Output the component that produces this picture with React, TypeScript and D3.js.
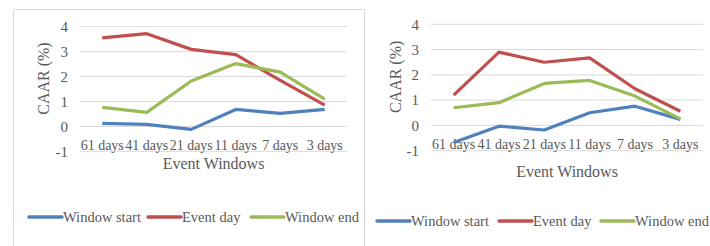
import * as d3 from 'd3';

const categories = ['61 days', '41 days', '21 days', '11 days', '7 days', '3 days'];
const yTicks = [-1, 0, 1, 2, 3, 4];
const seriesNames = ['Window start', 'Event day', 'Window end'];
const seriesColors = ['#4f81bd', '#c0504d', '#9bbb59'];

// left panel
const leftStart = [0.12, 0.08, -0.12, 0.68, 0.52, 0.68];
const leftEvent = [3.55, 3.72, 3.09, 2.88, 1.85, 0.85];
const leftEnd = [0.76, 0.56, 1.82, 2.52, 2.18, 1.09];

// right panel
const rightStart = [-0.68, -0.03, -0.18, 0.5, 0.76, 0.24];
const rightEvent = [1.2, 2.9, 2.5, 2.67, 1.45, 0.56];
const rightEnd = [0.7, 0.9, 1.66, 1.78, 1.16, 0.26];

const FONT = '"Liberation Serif", "Times New Roman", serif';
const TEXT = '#595959';
const GRID = '#d9d9d9';

interface PanelProps {
  series: number[][];
  x0: number;
  x1: number;
  yTop: number;
  yBottom: number;
  tickRight: number;
  titleX: number;
  catY: number;
  xTitleY: number;
  legendY: number;
  legendX: number[];
}

const Panel = (p: PanelProps) => {
  const x = d3.scaleBand<string>().domain(categories).range([p.x0, p.x1]);
  const y = d3.scaleLinear().domain([-1, 4]).range([p.yBottom, p.yTop]);
  const line = d3
    .line<number>()
    .x((_, i) => (x(categories[i]) || 0) + x.bandwidth() / 2)
    .y((d) => y(d));

  return (
    <g fontFamily={FONT} fill={TEXT}>
      {yTicks.map((t) => (
        <g key={t}>
          <line x1={p.x0} x2={p.x1} y1={y(t)} y2={y(t)} stroke={GRID} strokeWidth={1} />
          <text x={p.tickRight} y={y(t)} dy="0.35em" textAnchor="end" fontSize={15}>
            {t}
          </text>
        </g>
      ))}
      {categories.map((c) => (
        <text key={c} x={(x(c) || 0) + x.bandwidth() / 2} y={p.catY} textAnchor="middle" fontSize={14}>
          {c}
        </text>
      ))}
      <text
        transform={`translate(${p.titleX},${(p.yTop + y(0)) / 2 + 2}) rotate(-90)`}
        dy="0.35em"
        textAnchor="middle"
        fontSize={16}
      >
        CAAR (%)
      </text>
      <text x={(p.x0 + p.x1) / 2} y={p.xTitleY} textAnchor="middle" fontSize={16}>
        Event Windows
      </text>
      {p.series.map((s, i) => (
        <path key={i} d={line(s) || ''} fill="none" stroke={seriesColors[i]} strokeWidth={3.2} strokeLinejoin="round" />
      ))}
      {seriesNames.map((n, i) => (
        <g key={n}>
          <line
            x1={p.legendX[i]}
            x2={p.legendX[i] + 33}
            y1={p.legendY}
            y2={p.legendY}
            stroke={seriesColors[i]}
            strokeWidth={3.5}
            strokeLinecap="round"
          />
          <text x={p.legendX[i] + 34} y={p.legendY} dy="0.35em" fontSize={14.5}>
            {n}
          </text>
        </g>
      ))}
    </g>
  );
};

export default function App() {
  return (
    <svg
      width={710}
      height={246}
      style={{ position: 'absolute', left: 0, top: 0, background: '#fff' }}
    >
      <rect width={710} height={246} fill="#fff" />
      <path d="M13.5,246 V9.5 H364.5 V246" fill="none" stroke={GRID} strokeWidth={1} />
      <Panel
        series={[leftStart, leftEvent, leftEnd]}
        x0={80}
        x1={347}
        yTop={26.7}
        yBottom={151.3}
        tickRight={68}
        titleX={43}
        catY={150}
        xTitleY={169}
        legendX={[29, 148, 251]}
        legendY={217}
      />
      <Panel
        series={[rightStart, rightEvent, rightEnd]}
        x0={431}
        x1={703}
        yTop={24.3}
        yBottom={150.7}
        tickRight={419}
        titleX={395}
        catY={149}
        xTitleY={177}
        legendX={[377, 499, 601]}
        legendY={221}
      />
    </svg>
  );
}
